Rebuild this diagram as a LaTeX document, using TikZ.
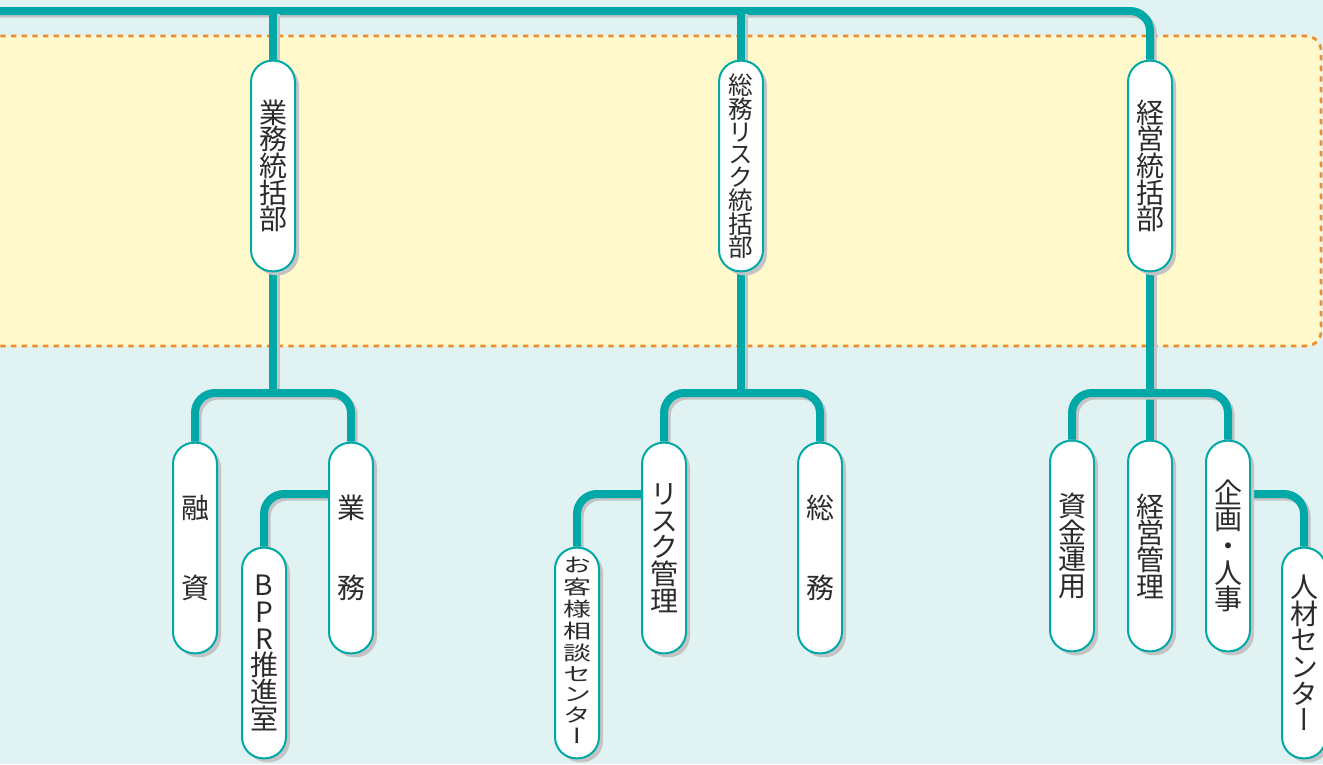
\documentclass[tikz,border=0pt]{standalone}
\usepackage{fontspec, graphicx}
\usetikzlibrary{shadows}
\newfontfamily\jpfont[RawFeature=+vert]{Noto Sans CJK JP}
\definecolor{bgcyan}{HTML}{E0F2F2}
\definecolor{boxyellow}{HTML}{FFF9CC}
\definecolor{dashorange}{HTML}{F28C28}
\definecolor{lineteal}{HTML}{00A8A8}
\definecolor{shadegray}{HTML}{C4C4C4}
\definecolor{inkgray}{HTML}{2B2B2B}
\pgfdeclarelayer{back}
\pgfdeclarelayer{links}
\pgfsetlayers{back,links,main}
\tikzset{pill/.style = {draw=lineteal, line width=1.5pt, fill=white, rounded corners=16pt,
    minimum width=33pt, minimum height=158pt, inner sep=0pt, align=center,
    text=inkgray, font=\jpfont\fontsize{21}{20}\selectfont,
    drop shadow={shadow xshift=3pt, shadow yshift=-3pt, fill=shadegray, opacity=1}}}
\tikzset{link/.style = {draw=lineteal, line width=6pt, rounded corners=15pt,
    preaction={draw=shadegray, line width=6pt, transform canvas={shift={(2pt,-2pt)}}}}}

\begin{document}
\begin{tikzpicture}[x=0.75pt, y=-0.75pt]
\useasboundingbox (0,0) rectangle (1323,764);
\coordinate (top) at (-10,11);
\coordinate (lvl1) at (0,393);
\coordinate (lvl2) at (0,494);
% headquarters
\node[pill] (hq1) at (273,166) {業\\務\\統\\括\\部};
\node[pill, font=\jpfont\fontsize{18.5}{17}\selectfont] (hq2) at (741,166) {総\\務\\リ\\ス\\ク\\統\\括\\部};
\node[pill] (hq3) at (1150,166) {経\\営\\統\\括\\部};
% sections
\node[pill] (yuushi) at (195,548) {融\\[40pt]資};
\node[pill] (gyoumu) at (351,548) {業\\[40pt]務};
\node[pill] (bpr) at (264,653) {B\\P\\R\\推\\進\\室};
\node[pill] (risk) at (664,548) {リ\\ス\\ク\\管\\理};
\node[pill] (soumu) at (820,548) {総\\[40pt]務};
\node[pill] (okyaku) at (577,653) {\scalebox{1}[0.7]{\begin{tabular}{@{}c@{}}お\\客\\様\\相\\談\\セ\\ン\\タ\\ー\end{tabular}}};
\node[pill] (shikin) at (1072,546) {資\\金\\運\\用};
\node[pill] (keiei) at (1150,546) {経\\営\\管\\理};
\node[pill] (kikaku) at (1228,546) {企\\画\\・\\人\\事};
\node[pill] (jinzai) at (1304,653) {人\\材\\セ\\ン\\タ\\ー};

\begin{pgfonlayer}{back}
\fill[bgcyan] (0,0) rectangle (1323,764);
\draw[fill=boxyellow, draw=dashorange, line width=2pt, dash pattern=on 4pt off 4pt,
  rounded corners=11pt] (-20,36) rectangle (1321,346);
\end{pgfonlayer}

\begin{pgfonlayer}{links}
\draw[link] (top) -| (hq3.north);
\draw[link] (hq1 |- top) -- (hq1.north);
\draw[link] (hq2 |- top) -- (hq2.north);
\draw[link] (hq1.south) -- (hq1 |- lvl1);
\draw[link] (hq2.south) -- (hq2 |- lvl1);
\draw[link] (hq3.south) -- (keiei.north);
\draw[link] (yuushi.north) |- (hq1 |- lvl1) -| (gyoumu.north);
\draw[link] (risk.north) |- (hq2 |- lvl1) -| (soumu.north);
\draw[link] (shikin.north) |- (hq3 |- lvl1) -| (kikaku.north);
\draw[link] (gyoumu |- lvl2) -| (bpr.north);
\draw[link] (risk |- lvl2) -| (okyaku.north);
\draw[link] (kikaku |- lvl2) -| (jinzai.north);
\end{pgfonlayer}
\end{tikzpicture}
\end{document}
